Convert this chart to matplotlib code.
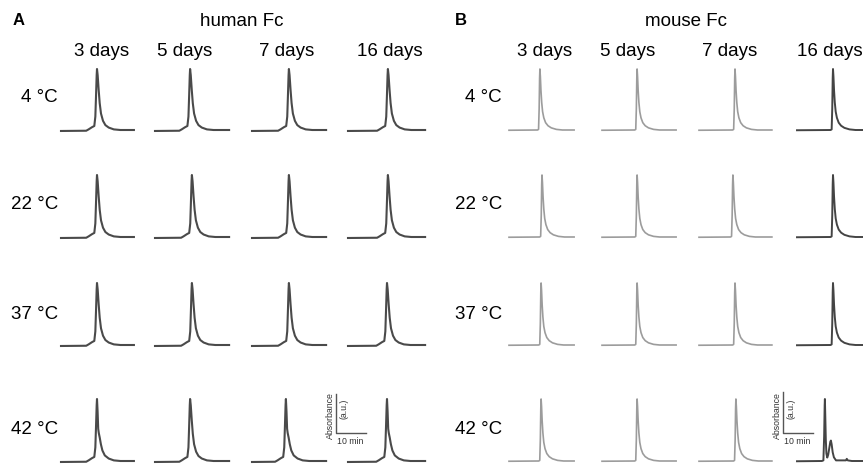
import numpy as np
import matplotlib
matplotlib.use("Agg")
import matplotlib.pyplot as plt

plt.rcParams['font.family'] = ['Liberation Sans', 'DejaVu Sans']

# ---------------- data ----------------
panels = ["human Fc", "mouse Fc"]
days = ["3 days", "5 days", "7 days", "16 days"]
temps = ["4 °C", "22 °C", "37 °C", "42 °C"]

# trace duration per column (min)
human_duration = [24.3, 24.7, 24.7, 25.7]
mouse_duration = [21.7, 24.7, 24.3, 28.3]

# apex retention time (min from trace start), rows = temps, cols = days
human_apex = [[12.0, 11.7, 12.3, 13.3],
              [12.0, 12.3, 12.3, 13.3],
              [12.0, 12.3, 12.3, 13.0],
              [12.0, 11.7, 11.3, 13.0]]
mouse_apex = [[10.3, 11.7, 12.0, 12.0],
              [11.0, 11.7, 11.3, 12.0],
              [10.7, 11.7, 12.0, 12.0],
              [10.7, 11.7, 12.3, 9.3]]

# which peak profile each cell shows
human_shape = [["h_main"] * 4,
               ["h_main"] * 4,
               ["h_main"] * 4,
               ["h_shoulder", "h_main", "h_shoulder", "h_shoulder"]]
mouse_shape = [["m_main"] * 4,
               ["m_main"] * 4,
               ["m_main"] * 4,
               ["m_main", "m_main", "m_main", "m_double"]]

# peak profiles: time offset from apex (min), absorbance (a.u., normalised)
h_main_dt = [-3.6, -2.8, -1.7, -0.9, -0.55, -0.33, -0.11, 0.0, 0.22, 0.55, 0.9, 1.33, 2.0, 2.8, 3.9, 5.6, 7.8]
h_main_a = [-0.012, 0.01, 0.045, 0.066, 0.22, 0.55, 0.9, 1.0, 0.9, 0.66, 0.44, 0.27, 0.15, 0.08, 0.04, 0.01, 0.0]
h_shoulder_dt = [-3.6, -2.8, -1.7, -0.9, -0.55, -0.33, -0.11, 0.0, 0.2, 0.4, 0.6, 0.9, 1.3, 1.8, 2.6, 3.9, 5.6, 7.8]
h_shoulder_a = [-0.012, 0.01, 0.045, 0.066, 0.22, 0.55, 0.9, 1.0, 0.8, 0.52, 0.45, 0.38, 0.27, 0.17, 0.09, 0.04, 0.01, 0.0]
m_main_dt = [-0.8, -0.45, -0.25, -0.1, 0.0, 0.15, 0.35, 0.6, 0.9, 1.3, 1.9, 2.7, 3.8, 5.5, 7.5]
m_main_a = [0.0, 0.01, 0.35, 0.85, 1.0, 0.88, 0.65, 0.45, 0.3, 0.2, 0.12, 0.07, 0.035, 0.01, 0.0]
m_double_dt = [-1.0, -0.5, -0.25, -0.08, 0.0, 0.12, 0.3, 0.5, 0.78, 1.1, 1.5, 1.8, 2.0, 2.25, 2.6, 3.0, 3.7, 7.0, 7.3, 7.6, 9.0]
m_double_a = [0.0, 0.01, 0.4, 0.9, 1.0, 0.75, 0.35, 0.12, 0.055, 0.1, 0.22, 0.31, 0.33, 0.27, 0.14, 0.06, 0.01, 0.01, 0.035, 0.01, 0.0]

profiles = {
    "h_main": (h_main_dt, h_main_a),
    "h_shoulder": (h_shoulder_dt, h_shoulder_a),
    "m_main": (m_main_dt, m_main_a),
    "m_double": (m_double_dt, m_double_a),
}

# ---------------- layout ----------------
W, H = 863, 465
PX_PER_MIN = 3.0
col_left = [[61, 155, 252, 348], [509, 602, 699, 797]]
row_top = [69, 175, 283, 399]
row_base = [130, 237, 345, 461]
human_color = "#4a4a4a"
mouse_colors = ["#9c9c9c", "#9c9c9c", "#9c9c9c", "#444444"]

fig = plt.figure(figsize=(W / 100, H / 100), dpi=100)


def fx(x):
    return x / W


def fy(y):
    return 1 - y / H


def trace(apex, dur, shape):
    dt, a = profiles[shape]
    t = [0.0] + [apex + d for d in dt] + [dur]
    y = [a[0] - 0.004] + list(a) + [a[-1]]
    return t, y


for p in range(2):
    apexes = human_apex if p == 0 else mouse_apex
    shapes = human_shape if p == 0 else mouse_shape
    durs = human_duration if p == 0 else mouse_duration
    for r in range(4):
        for c in range(4):
            dur = durs[c]
            left = col_left[p][c]
            ax = fig.add_axes([fx(left), fy(row_base[r]),
                               dur * PX_PER_MIN / W, (row_base[r] - row_top[r]) / H])
            t, y = trace(apexes[r][c], dur, shapes[r][c])
            color = human_color if p == 0 else mouse_colors[c]
            lw = 1.5 if p == 0 else (1.2 if c < 3 else 1.4)
            ax.plot(t, y, color=color, lw=lw, clip_on=False, solid_joinstyle="round")
            ax.set_xlim(0, dur)
            ax.set_ylim(0, 1)
            ax.axis("off")

# ---------------- text ----------------
fs = 13.5
fig.text(fx(19), fy(20.5), "A", fontsize=12, fontweight="bold", ha="center", va="center")
fig.text(fx(461), fy(20.5), "B", fontsize=12, fontweight="bold", ha="center", va="center")
fig.text(fx(242), fy(22), panels[0], fontsize=fs, ha="center", va="center")
fig.text(fx(686), fy(22), panels[1], fontsize=fs, ha="center", va="center")

day_x = [[102, 185, 287, 390], [545, 627.5, 729.5, 830]]
for p in range(2):
    for c in range(4):
        fig.text(fx(day_x[p][c]), fy(52), days[c], fontsize=fs, ha="center", va="center")

row_y = [98, 204, 314, 429]
for p, xr in enumerate([58, 502]):
    for r in range(4):
        fig.text(fx(xr), fy(row_y[r]), temps[r], fontsize=fs, ha="right", va="center")

# ---------------- scale bars ----------------
for bx, by, btop in [(336, 433, 394), (783, 433, 392)]:
    ax = fig.add_axes([fx(bx), fy(by), 10 * PX_PER_MIN / W, (by - btop) / H])
    ax.plot([0, 0, 10], [1, 0, 0], color="#555555", lw=1.0, clip_on=False)
    ax.set_xlim(0, 10)
    ax.set_ylim(0, 1)
    ax.axis("off")
    fig.text(fx(bx - 6), fy(416), "Absorbance", fontsize=6.3, rotation=90,
             ha="center", va="center", color="#333333")
    fig.text(fx(bx + 8), fy(409), "(a.u.)", fontsize=6.3, rotation=90,
             ha="center", va="center", color="#333333")
    fig.text(fx(bx + 14), fy(441), "10 min", fontsize=6.3,
             ha="center", va="center", color="#333333")

fig.savefig("out.png", dpi=100)
